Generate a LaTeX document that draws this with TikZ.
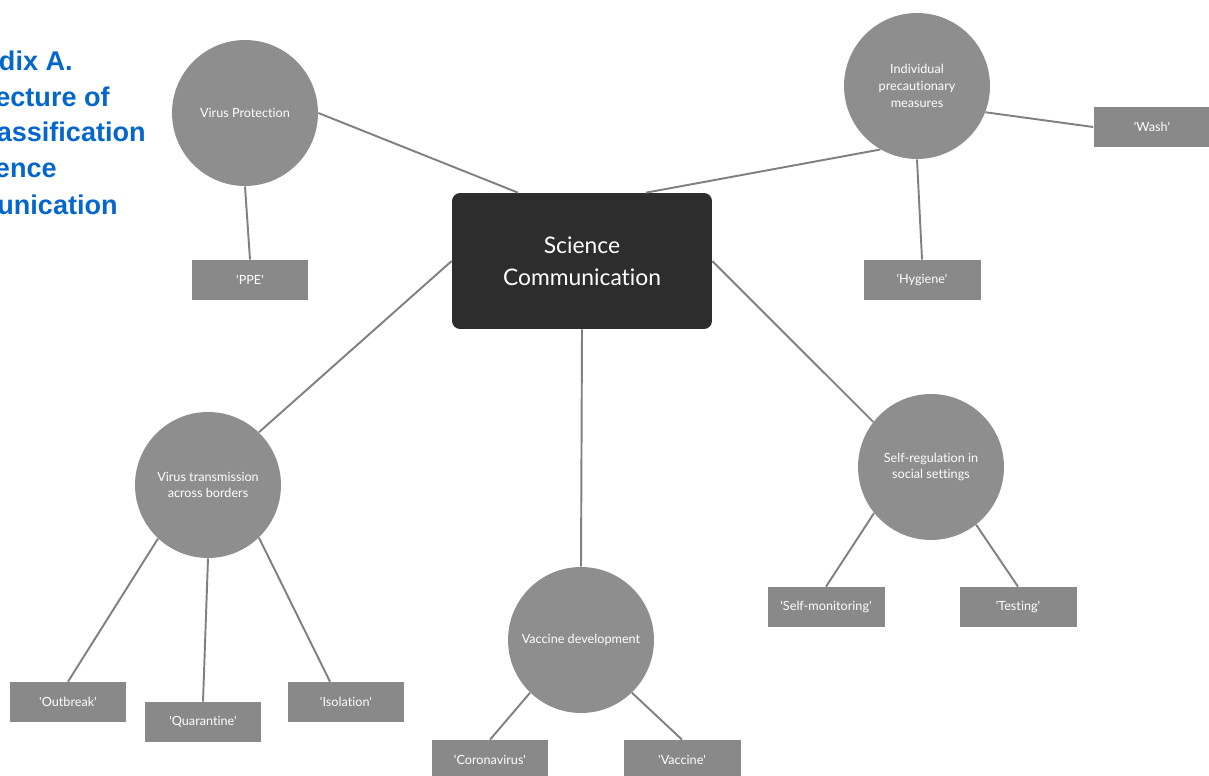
\documentclass[tikz,border=0pt]{standalone}
\usepackage{fontspec}
\setmainfont{Lato}[Ligatures={TeXOff,NoCommon}]
\newfontfamily\titlefont{Liberation Sans}
\usetikzlibrary{calc}
\definecolor{topicgray}{RGB}{142,142,142}
\definecolor{termgray}{RGB}{137,137,137}
\definecolor{hubdark}{RGB}{45,45,45}
\definecolor{linkgray}{RGB}{128,128,128}
\definecolor{titleblue}{RGB}{5,102,204}
\tikzstyle{topic}=[circle,fill=topicgray,minimum size=2.92cm,inner sep=0pt,text=white,align=center,font=\fontsize{7.2}{9.6}\selectfont]
\tikzstyle{term}=[rectangle,fill=termgray,minimum width=2.34cm,minimum height=0.8cm,inner sep=0pt,text=white,font=\fontsize{7.2}{9.6}\selectfont]
\tikzstyle{hub}=[rectangle,rounded corners=0.16cm,fill=hubdark,minimum width=5.2cm,minimum height=2.72cm,text=white,align=center,font=\fontsize{13}{18}\selectfont]
\tikzstyle{link}=[draw,linkgray,line width=1.1pt]
\tikzstyle{heading}=[titleblue,anchor=base east,inner sep=0pt,font=\titlefont\bfseries\fontsize{15.4}{17}\selectfont]

\begin{document}
\begin{tikzpicture}[x=0.02cm,y=-0.02cm]
    \useasboundingbox (0,0) rectangle (1209,776);
    % Heading, cut off at the left edge
    \foreach \x/\y/\txt in {73/71/{dix A.}, 110/107/{ecture of}, 146/142/{assification}, 57/178/{ence}, 118/215/{unication}}
        \node[heading] (head\y) at (\x,\y) {\txt};

    % The hub and the topics around it
    \node[hub] (sci) at (582,261) {Science\\Communication};
    \foreach \pos/\name/\txt in {{(245,113)/prot/{Virus Protection}},
        {(917,86)/indiv/{Individual\\precautionary\\measures}},
        {(208,485)/trans/{Virus transmission\\across borders}},
        {(581,640)/vacc/{Vaccine development}},
        {(931,467)/selfreg/{Self-regulation in\\social settings}}}
        \node[topic] (\name) at \pos {\txt};

    % Then the terms
    \foreach \pos/\name/\txt in {{(250,280)/ppe/{'PPE'}}, {(1152,127)/wash/{'Wash'}},
        {(922,280)/hygiene/{'Hygiene'}}, {(68,702)/outbreak/{'Outbreak'}},
        {(203,722)/quarantine/{'Quarantine'}}, {(346,702)/isolation/{'Isolation'}},
        {(490,760)/corona/{'Coronavirus'}}, {(682,760)/vaccine/{'Vaccine'}},
        {(826,607)/selfmon/{'Self-monitoring'}}, {(1018,607)/testing/{'Testing'}}}
        \node[term] (\name) at \pos {\txt};

    % Free ends off the anchors
    \coordinate (sciL) at ($(sci.north)+(-64,0)$);
    \coordinate (sciR) at ($(sci.north)+(64,0)$);
    \coordinate (isoL) at ($(isolation.north)+(-16,0)$);

    % Connect them
    \foreach \source/\dest in {prot.east/sciL, prot.south/ppe.north,
        sciR/indiv.240, indiv.-21/wash.west, indiv.south/hygiene.north,
        sci.west/trans.46, trans.-133/outbreak.north, trans.south/quarantine.north, trans.-46/isoL,
        sci.south/vacc.north, vacc.-134/corona.north, vacc.-46/vaccine.north,
        sci.east/selfreg.142, selfreg.-141/selfmon.north, selfreg.-52/testing.north}
        \path[link] (\source) -- (\dest);
\end{tikzpicture}
\end{document}
